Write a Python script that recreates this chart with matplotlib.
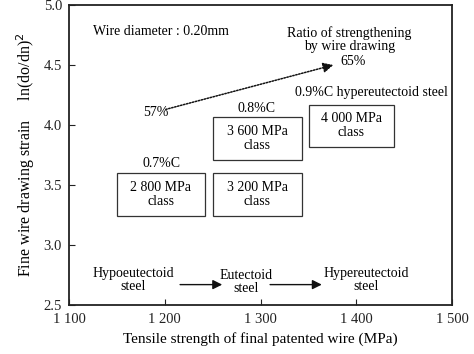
import matplotlib
matplotlib.use("Agg")
import matplotlib.pyplot as plt
from matplotlib.patches import Rectangle

plt.rcParams["font.family"] = ["Liberation Serif", "DejaVu Serif"]

# Data
X_TICKS = [1100, 1200, 1300, 1400, 1500]
X_TICKLABELS = ["1 100", "1 200", "1 300", "1 400", "1 500"]
Y_TICKS = [2.5, 3.0, 3.5, 4.0, 4.5, 5.0]

# strength class boxes: (x0, x1, y0, y1)
BOX_LABELS = ["2 800 MPa\nclass", "3 200 MPa\nclass", "3 600 MPa\nclass", "4 000 MPa\nclass"]
BOX_X0 = [1150, 1250, 1250, 1351]
BOX_X1 = [1242, 1343, 1343, 1439]
BOX_Y0 = [3.24, 3.24, 3.71, 3.82]
BOX_Y1 = [3.60, 3.60, 4.07, 4.17]

CARBON_LABELS = ["0.7%C", "0.8%C", "0.9%C hypereutectoid steel"]
CARBON_X = [1197, 1296, 1416]
CARBON_Y = [3.68, 4.14, 4.27]

STEEL_LABELS = ["Hypoeutectoid\nsteel", "Eutectoid\nsteel", "Hypereutectoid\nsteel"]
STEEL_X = [1167, 1285, 1410]
STEEL_Y = [2.71, 2.69, 2.71]
STEEL_ARROW_X = [(1216, 1260), (1310, 1364)]
STEEL_ARROW_Y = 2.67

RATIO_START = (1201, 4.13)
RATIO_END = (1376, 4.50)

fig = plt.figure(figsize=(4.74, 3.54), dpi=100)
ax = fig.add_axes([0.1456, 0.1384, 0.808, 0.8475])
ax.set_xlim(1100, 1500)
ax.set_ylim(2.5, 5.0)

ax.set_xticks(X_TICKS)
ax.set_xticklabels(X_TICKLABELS)
ax.set_yticks(Y_TICKS)
ax.set_yticklabels([f"{v:.1f}" for v in Y_TICKS])
ax.tick_params(direction="in", length=4, width=0.8, labelsize=10.5, colors="#222222")
ax.tick_params(axis="x", pad=6)
ax.tick_params(axis="y", pad=5)
for s in ax.spines.values():
    s.set_linewidth(1.3)
    s.set_color("#222222")

ax.set_xlabel("Tensile strength of final patented wire (MPa)", fontsize=11, labelpad=4)
ax.set_ylabel("Fine wire drawing strain     ln(do/dn)$^2$", fontsize=11.5, labelpad=5)

for lab, x0, x1, y0, y1 in zip(BOX_LABELS, BOX_X0, BOX_X1, BOX_Y0, BOX_Y1):
    ax.add_patch(Rectangle((x0, y0), x1 - x0, y1 - y0, fill=False, lw=0.9, ec="#333333"))
    ax.text((x0 + x1) / 2, (y0 + y1) / 2, lab, ha="center", va="center",
            fontsize=10, linespacing=1.1)

for lab, x, y in zip(CARBON_LABELS, CARBON_X, CARBON_Y):
    ax.text(x, y, lab, ha="center", va="center", fontsize=10)

for lab, x, y in zip(STEEL_LABELS, STEEL_X, STEEL_Y):
    ax.text(x, y, lab, ha="center", va="center", fontsize=10, linespacing=1.0)

for xs, xe in STEEL_ARROW_X:
    ax.annotate("", xy=(xe, STEEL_ARROW_Y), xytext=(xs, STEEL_ARROW_Y),
                arrowprops=dict(arrowstyle="-|>", color="#111111", lw=1.0,
                                mutation_scale=14, shrinkA=0, shrinkB=0))

ax.text(1196, 4.78, "Wire diameter : 0.20mm", ha="center", va="center", fontsize=10)
ax.text(1393, 4.71, "Ratio of strengthening\nby wire drawing", ha="center", va="center",
        fontsize=10, linespacing=1.05)
ax.text(1397, 4.53, "65%", ha="center", va="center", fontsize=10)
ax.text(1191, 4.10, "57%", ha="center", va="center", fontsize=10)

ax.annotate("", xy=RATIO_END, xytext=RATIO_START,
            arrowprops=dict(arrowstyle="-|>", color="#111111", lw=1.1, ls=(0, (1, 1)),
                            mutation_scale=15, shrinkA=0, shrinkB=0))

fig.savefig("out.png", dpi=100)
